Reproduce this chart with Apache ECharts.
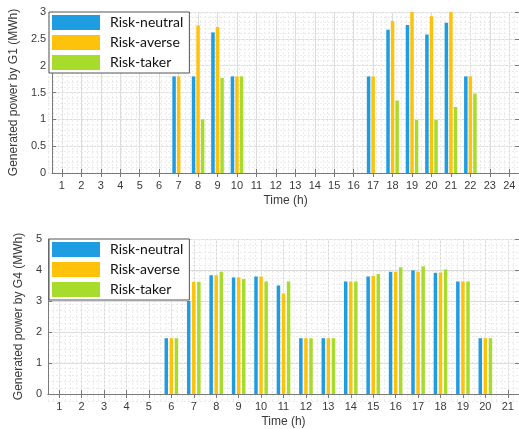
<!DOCTYPE html>
<html>
<head>
<meta charset="utf-8">
<script src="https://cdn.jsdelivr.net/npm/echarts@6/dist/echarts.min.js"></script>
<style>
  html, body { margin: 0; padding: 0; background: #fff; }
  #chart { width: 519px; height: 429px; }
</style>
</head>
<body>
<div id="chart"></div>
<script>
// hours on each x axis
var hoursG1 = ['1','2','3','4','5','6','7','8','9','10','11','12','13','14','15','16','17','18','19','20','21','22','23','24'];
var hoursG4 = ['1','2','3','4','5','6','7','8','9','10','11','12','13','14','15','16','17','18','19','20','21'];

// G1 generated power (MWh), one value per hour
var g1Neutral = [0,0,0,0,0,0,1.8,1.8,2.62,1.8,0,0,0,0,0,0,1.8,2.67,2.76,2.58,2.8,1.8,0,0];
var g1Averse  = [0,0,0,0,0,0,1.8,2.75,2.72,1.8,0,0,0,0,0,0,1.8,2.83,3.0,2.92,3.0,1.8,0,0];
var g1Taker   = [0,0,0,0,0,0,0,1.0,1.77,1.8,0,0,0,0,0,0,0,1.35,0.99,0.99,1.23,1.48,0,0];

// G4 generated power (MWh)
var g4Neutral = [0,0,0,0,0,1.8,3.0,3.83,3.76,3.79,3.5,1.8,1.8,3.63,3.79,3.94,3.99,3.91,3.63,1.8,0];
var g4Averse  = [0,0,0,0,0,1.8,3.62,3.83,3.76,3.79,3.24,1.8,1.8,3.63,3.81,3.94,3.94,3.92,3.63,1.8,0];
var g4Taker   = [0,0,0,0,0,1.8,3.62,3.94,3.71,3.63,3.63,1.8,1.8,3.63,3.87,4.09,4.12,4.02,3.63,1.8,0];

var names = ['Risk-neutral', 'Risk-averse', 'Risk-taker'];
var colors = ['#1e9de2', '#ffc20a', '#a8dc2c'];

var axisCol = '#7a7a7a';
var labelCol = '#3a3a3a';
var majorGrid = '#dcdcdc';
var minorGrid = '#ebebeb';
var axisFont = 'Liberation Sans, Arial, sans-serif';

var chart = echarts.init(document.getElementById('chart'));

function catAxis(gridIndex, data, pos, withLabels) {
    return {
        type: 'category',
        gridIndex: gridIndex,
        position: pos,
        data: data,
        boundaryGap: true,
        name: withLabels ? 'Time (h)' : '',
        nameLocation: 'middle',
        nameGap: 22,
        nameTextStyle: { color: labelCol, fontSize: 12, fontFamily: axisFont },
        axisLine: { show: true, lineStyle: { color: axisCol, width: 1 } },
        axisTick: { show: true, inside: true, length: 4, alignWithLabel: true, lineStyle: { color: axisCol } },
        axisLabel: { show: withLabels, color: labelCol, fontSize: 11, fontFamily: axisFont, margin: 7, interval: 0 },
        splitLine: { show: withLabels, alignWithLabel: true, lineStyle: { color: majorGrid, width: 1 } }
    };
}

function valAxis(gridIndex, max, interval, pos, withLabels, name) {
    return {
        type: 'value',
        gridIndex: gridIndex,
        position: pos,
        min: 0,
        max: max,
        interval: interval,
        name: name,
        nameLocation: 'middle',
        nameGap: 20,
        nameTextStyle: { color: labelCol, fontSize: 12, fontFamily: axisFont },
        axisLine: { show: true, lineStyle: { color: axisCol, width: 1 } },
        axisTick: { show: true, inside: true, length: 4, lineStyle: { color: axisCol } },
        axisLabel: { show: withLabels, color: labelCol, fontSize: 11, fontFamily: axisFont, margin: 6 },
        splitLine: { show: withLabels, lineStyle: { color: majorGrid, width: 1 } }
    };
}

// overlay axes only used to draw the faint minor grid
function minorX(gridIndex, max) {
    return {
        type: 'value', gridIndex: gridIndex, min: 0.5, max: max, interval: 0.25,
        axisLine: { show: false }, axisTick: { show: false }, axisLabel: { show: false },
        splitLine: { show: true, lineStyle: { color: minorGrid, type: [2, 2], width: 1 } }
    };
}
function minorY(gridIndex, max, interval) {
    return {
        type: 'value', gridIndex: gridIndex, min: 0, max: max, interval: interval,
        axisLine: { show: false }, axisTick: { show: false }, axisLabel: { show: false },
        splitLine: { show: true, lineStyle: { color: minorGrid, type: [2, 2], width: 1 } }
    };
}

function legendAt(top) {
    return {
        data: names,
        orient: 'vertical',
        left: 49,
        top: top,
        icon: 'rect',
        itemWidth: 48,
        itemHeight: 15,
        itemGap: 5,
        padding: [3, 6, 3, 3],
        backgroundColor: '#fff',
        borderColor: '#555',
        borderWidth: 1,
        textStyle: { color: '#111', fontSize: 14, fontFamily: 'Lato, sans-serif', padding: [0, 0, 0, 5] },
        z: 10
    };
}

function bars(name, data, color, xi, yi, gap) {
    return {
        name: name,
        type: 'bar',
        xAxisIndex: xi,
        yAxisIndex: yi,
        data: data,
        barWidth: 3.5,
        barGap: gap,
        itemStyle: { color: color },
        animation: false
    };
}

chart.setOption({
    animation: false,
    grid: [
        { left: 48, right: -4, top: 12, bottom: 256 },
        { left: 48, right: -3, top: 239, bottom: 28 },
        { left: 48, right: -4, top: 12, bottom: 256, z: 0 },
        { left: 48, right: -3, top: 239, bottom: 28, z: 0 }
    ],
    legend: [legendAt(12), legendAt(239)],
    xAxis: [
        catAxis(0, hoursG1, 'bottom', true),
        catAxis(0, hoursG1, 'top', false),
        catAxis(1, hoursG4, 'bottom', true),
        catAxis(1, hoursG4, 'top', false),
        minorX(2, 24.5),
        minorX(3, 21.5)
    ],
    yAxis: [
        valAxis(0, 3, 0.5, 'left', true, 'Generated power by G1 (MWh)'),
        valAxis(0, 3, 0.5, 'right', false, ''),
        valAxis(1, 5, 1, 'left', true, 'Generated power by G4 (MWh)'),
        valAxis(1, 5, 1, 'right', false, ''),
        minorY(2, 3, 0.1),
        minorY(3, 5, 0.2)
    ],
    series: [
        bars(names[0], g1Neutral, colors[0], 0, 0, '30%'),
        bars(names[1], g1Averse, colors[1], 0, 0, '30%'),
        bars(names[2], g1Taker, colors[2], 0, 0, '30%'),
        bars(names[0], g4Neutral, colors[0], 2, 2, '45%'),
        bars(names[1], g4Averse, colors[1], 2, 2, '45%'),
        bars(names[2], g4Taker, colors[2], 2, 2, '45%')
    ]
});
</script>
</body>
</html>
